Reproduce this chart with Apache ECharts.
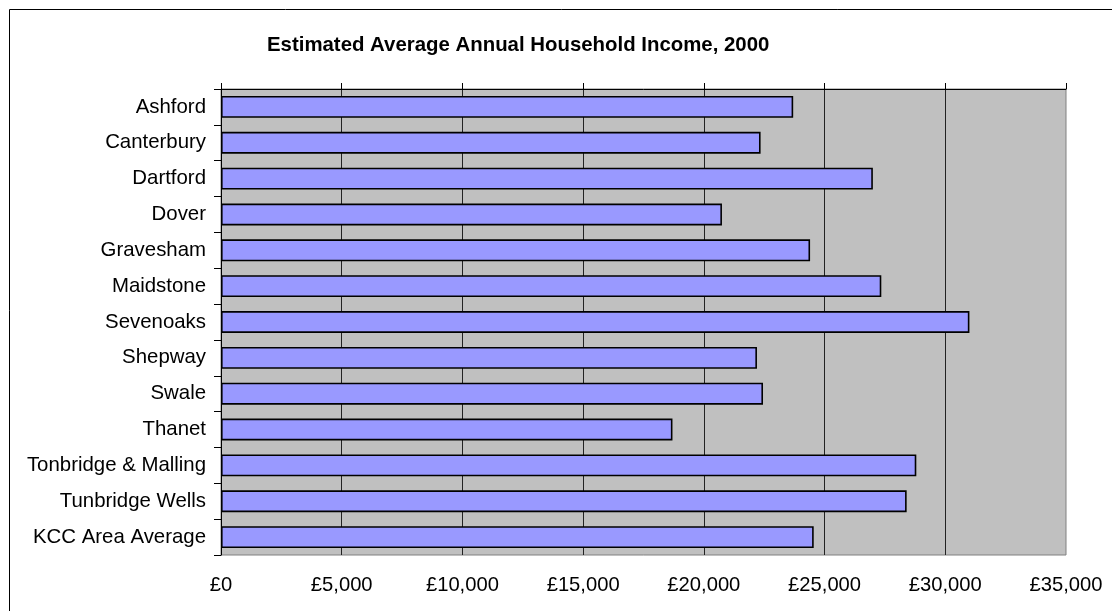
<!DOCTYPE html>
<html>
<head>
<meta charset="utf-8">
<script src="https://cdn.jsdelivr.net/npm/echarts@6/dist/echarts.min.js"></script>
<style>
html, body { margin: 0; padding: 0; background: #fff; }
#main { width: 1112px; height: 611px; }
</style>
</head>
<body>
<div id="main"></div>
<script>
// districts, top to bottom
var districts = ['Ashford', 'Canterbury', 'Dartford', 'Dover', 'Gravesham', 'Maidstone',
    'Sevenoaks', 'Shepway', 'Swale', 'Thanet', 'Tonbridge & Malling', 'Tunbridge Wells',
    'KCC Area Average'];
// estimated average annual household income (£)
var income = [23700, 22350, 27000, 20750, 24400, 27350, 31000, 22200, 22450, 18700,
    28800, 28400, 24550];

var font = 'Arial, "Liberation Sans", sans-serif';

var chart = echarts.init(document.getElementById('main'));
var option = {
    backgroundColor: '#fff',
    animation: false,
    title: {
        text: 'Estimated Average Annual Household Income, 2000',
        left: 262,
        top: 30,
        textStyle: { fontFamily: font, fontSize: 20.4, fontWeight: 'bold', color: '#000' }
    },
    graphic: [{
        type: 'rect',
        shape: { x: 9.5, y: 9.5, width: 1300, height: 800 },
        style: { fill: 'none', stroke: '#000', lineWidth: 1 },
        silent: true
    }],
    grid: {
        left: 221,
        right: 46,
        top: 89,
        bottom: 56,
        show: true,
        backgroundColor: '#c0c0c0',
        borderColor: '#808080',
        borderWidth: 1
    },
    xAxis: [
        {
            type: 'value',
            position: 'bottom',
            min: 0,
            max: 35000,
            interval: 5000,
            axisLine: { show: false },
            axisTick: { show: false },
            axisLabel: {
                margin: 20,
                fontFamily: font,
                fontSize: 20.2,
                color: '#000',
                formatter: function (v) { return '£' + v.toLocaleString('en-GB'); }
            },
            splitLine: {
                show: true,
                showMinLine: false,
                showMaxLine: false,
                lineStyle: { color: '#222', width: 1 }
            }
        },
        {
            type: 'value',
            position: 'top',
            min: 0,
            max: 35000,
            interval: 5000,
            axisLine: { show: true, lineStyle: { color: '#000', width: 1 } },
            axisTick: { show: true, inside: false, length: 6, lineStyle: { color: '#000' } },
            axisLabel: { show: false },
            splitLine: { show: false }
        }
    ],
    yAxis: {
        type: 'category',
        data: districts,
        inverse: true,
        axisLine: { show: true, lineStyle: { color: '#000', width: 1 } },
        axisTick: { show: true, inside: false, length: 7, lineStyle: { color: '#000' } },
        axisLabel: {
            margin: 15,
            fontFamily: font,
            fontSize: 20.4,
            color: '#000'
        },
        splitLine: { show: false }
    },
    series: [{
        type: 'bar',
        xAxisIndex: 0,
        data: income,
        barCategoryGap: '39%',
        itemStyle: {
            color: '#9999ff',
            borderColor: '#000',
            borderWidth: 1.6
        }
    }]
};
chart.setOption(option);
</script>
</body>
</html>
